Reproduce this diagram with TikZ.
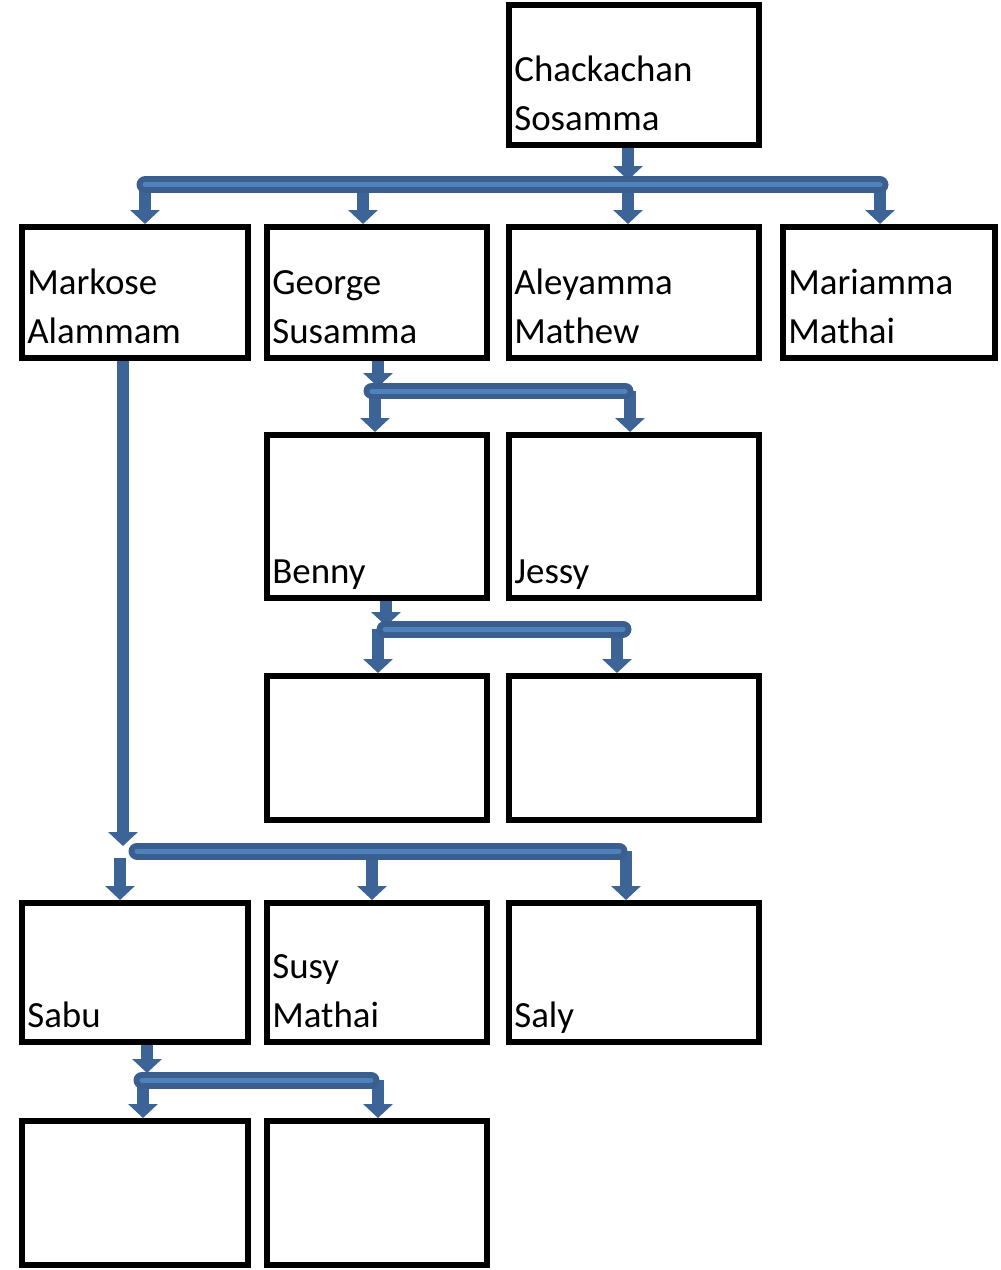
\documentclass[tikz,border=0pt]{standalone}
\usepackage{fontspec}
\setmainfont{Carlito}
\usepackage{tikz}
\usetikzlibrary{arrows.meta,fit,calc}

\definecolor{arrowblue}{HTML}{3D6497}
\definecolor{bardark}{HTML}{3A5F8E}
\definecolor{barlight}{HTML}{4F81BD}

\begin{document}
\begin{tikzpicture}[x=0.02cm, y=-0.02cm,
  person/.style={draw, line width=0.12cm, inner sep=0pt},
  persontext/.style={anchor=south west, inner sep=0pt, text depth=0pt, align=left,
               font=\fontsize{21}{28}\selectfont},
  kidarrow/.style={draw=arrowblue, line width=0.25cm,
                   -{Triangle[width=0.58cm,length=0.28cm]}},
  famline/.style={draw=bardark, line width=0.12cm, double=barlight,
                  double distance=0.1cm, line cap=round}]

\useasboundingbox (0,0) rectangle (1000,1270);

%---------------- boxes ----------------%
\foreach \nm/\xa/\ya/\xb/\yb in {
    chackachan/509/5/759/145,
    markose/22/227/248/358,
    george/267/227/487/358,
    aleyamma/509/227/759/358,
    mariamma/783/227/995/358,
    benny/267/435/487/598,
    jessy/509/435/759/598,
    bennyA/267/676/487/820,
    bennyB/509/676/759/820,
    sabu/22/903/248/1042,
    susy/267/903/487/1042,
    saly/509/903/759/1042,
    sabuA/22/1121/248/1265,
    sabuB/267/1121/487/1265} {
  \node[person, fit={(\xa,\ya) (\xb,\yb)}] (\nm) {};
}

%---------------- names ----------------%
\foreach \nm/\txt in {
    chackachan/{Chackachan\\Sosamma},
    markose/{Markose\\Alammam},
    george/{George\\Susamma},
    aleyamma/{Aleyamma\\Mathew},
    mariamma/{Mariamma\\Mathai},
    benny/{Benny},
    jessy/{Jessy},
    sabu/{Sabu},
    susy/{Susy\\Mathai},
    saly/{Saly}} {
  \node[persontext] (\nm-txt) at ($(\nm.south west)+(8,-17)$) {\txt};
}

%---------------- arrows ----------------%
% parent -> family line
\foreach \x/\parent/\y in {628/chackachan/180, 378/george/387,
                         386/benny/626, 123/markose/846, 147/sabu/1073} {
  \draw[kidarrow] (\x,0 |- \parent.south) -- (\x,\y);
}
% family line -> children
\foreach \x/\y/\kid in {145/186/markose, 363/186/george, 628/186/aleyamma,
                         880/186/mariamma,
                         375/391/benny, 630/391/jessy,
                         378/629/bennyA, 617/629/bennyB,
                         120/858/sabu, 372/851/susy, 626/851/saly,
                         143/1080/sabuA, 378/1080/sabuB} {
  \draw[kidarrow] (\x,\y) -- (\x,0 |- \kid.north);
}

%---------------- family lines ----------------%
\foreach \xa/\xb/\y in {145/880/185, 372/625/391, 385/623/629,
                         137/619/851, 142/371/1080} {
  \draw[famline] (\xa,\y) -- (\xb,\y);
}

\end{tikzpicture}
\end{document}
